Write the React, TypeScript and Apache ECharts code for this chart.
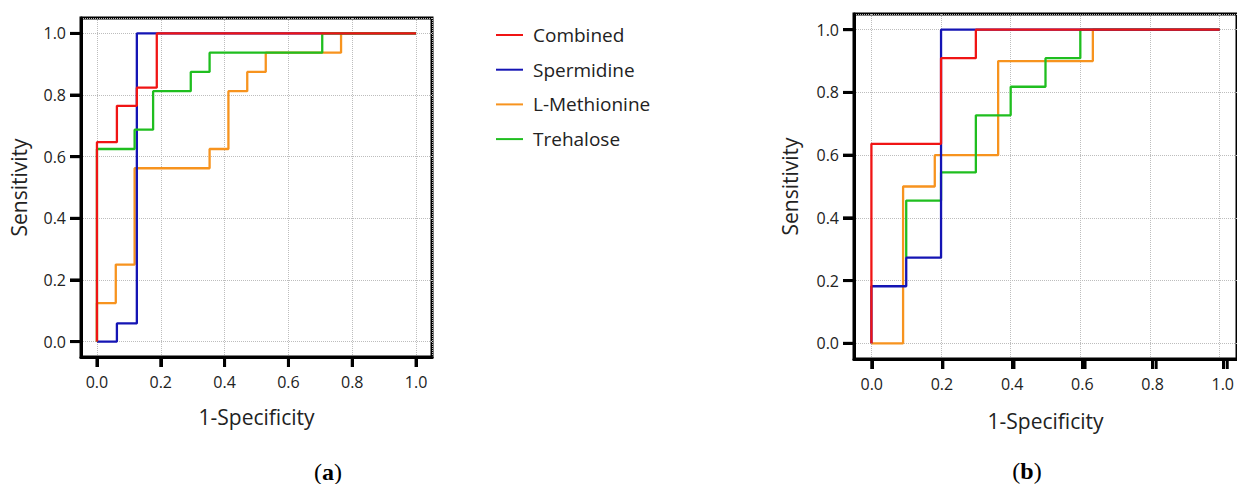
import React, { useEffect, useRef } from "react";
import * as echarts from "echarts";

// Tick values shared by both panels
const xTicks = [0, 0.2, 0.4, 0.6, 0.8, 1.0];
const yTicks = [0, 0.2, 0.4, 0.6, 0.8, 1.0];

const seriesNames = ["Combined", "Spermidine", "L-Methionine", "Trehalose"];
const seriesColors = ["#f01414", "#1414b4", "#f7931e", "#1fbe1f"];

// Panel (a) ROC corner points [1-specificity, sensitivity]
const combinedA = [[0, 0], [0, 0.647], [0.0625, 0.647], [0.0625, 0.765], [0.125, 0.765], [0.125, 0.824], [0.1875, 0.824], [0.1875, 1], [1, 1]];
const spermidineA = [[0, 0], [0.0625, 0], [0.0625, 0.059], [0.125, 0.059], [0.125, 1], [1, 1]];
const methionineA = [[0, 0], [0, 0.125], [0.059, 0.125], [0.059, 0.25], [0.118, 0.25], [0.118, 0.5625], [0.353, 0.5625], [0.353, 0.625], [0.412, 0.625], [0.412, 0.8125], [0.471, 0.8125], [0.471, 0.875], [0.529, 0.875], [0.529, 0.9375], [0.765, 0.9375], [0.765, 1], [1, 1]];
const trehaloseA = [[0, 0], [0, 0.625], [0.118, 0.625], [0.118, 0.6875], [0.176, 0.6875], [0.176, 0.8125], [0.294, 0.8125], [0.294, 0.875], [0.353, 0.875], [0.353, 0.9375], [0.706, 0.9375], [0.706, 1], [1, 1]];

// Panel (b)
const combinedB = [[0, 0], [0, 0.636], [0.2, 0.636], [0.2, 0.909], [0.3, 0.909], [0.3, 1], [1, 1]];
const spermidineB = [[0, 0], [0, 0.182], [0.1, 0.182], [0.1, 0.273], [0.2, 0.273], [0.2, 1], [1, 1]];
const methionineB = [[0, 0], [0.091, 0], [0.091, 0.5], [0.182, 0.5], [0.182, 0.6], [0.364, 0.6], [0.364, 0.9], [0.636, 0.9], [0.636, 1], [1, 1]];
const trehaloseB = [[0.1, 0.273], [0.1, 0.455], [0.2, 0.455], [0.2, 0.545], [0.3, 0.545], [0.3, 0.727], [0.4, 0.727], [0.4, 0.818], [0.5, 0.818], [0.5, 0.909], [0.6, 0.909], [0.6, 1], [1, 1]];

const FONT = "Open Sans";
const TEXT = "#222";
const PAD = 0.05; // axis padding beyond [0, 1]
const SPAN = 1 + 2 * PAD;
const BW = 3; // box / axis line width
const X_TICK_LEN = 10;
const Y_TICK_LEN = 11;

type Box = { left: number; top: number; width: number; height: number };
const boxes: Box[] = [
  { left: 81, top: 18, width: 351, height: 339 },
  { left: 854, top: 14, width: 391, height: 345 },
];

// inner grid spanning exactly the [0, 1] data range of a box
function innerOf(b: Box) {
  const ox = (b.width * PAD) / SPAN;
  const oy = (b.height * PAD) / SPAN;
  return { left: b.left + ox, top: b.top + oy, width: b.width - 2 * ox, height: b.height - 2 * oy, ox, oy };
}

const splitStyle = { type: "dotted", color: "#bdbdbd", width: 1 };

// Box axes: frame, grid lines and names
function boxX(gridIndex: number, nameGap: number) {
  return {
    type: "value", gridIndex, min: -PAD, max: 1 + PAD, splitNumber: 5,
    name: "1-Specificity", nameLocation: "middle", nameGap,
    nameTextStyle: { fontFamily: FONT, fontSize: 21, color: TEXT },
    axisLine: { show: true, onZero: false, lineStyle: { color: "#000", width: BW } },
    axisTick: { show: false },
    axisLabel: { show: false },
    splitLine: { show: true, lineStyle: splitStyle },
  };
}
function boxY(gridIndex: number, nameGap: number) {
  return {
    type: "value", gridIndex, min: -PAD, max: 1 + PAD, splitNumber: 5,
    name: "Sensitivity", nameLocation: "middle", nameGap,
    nameTextStyle: { fontFamily: FONT, fontSize: 21, color: TEXT },
    axisLine: { show: true, onZero: false, lineStyle: { color: "#000", width: BW } },
    axisTick: { show: false },
    axisLabel: { show: false },
    splitLine: { show: true, lineStyle: splitStyle },
  };
}
// Tick axes on the inner [0, 1] grids, shifted out onto the frame
function tickX(gridIndex: number, offset: number) {
  return {
    type: "value", gridIndex, min: xTicks[0], max: xTicks[xTicks.length - 1], interval: 0.2, offset, z: 10,
    axisLine: { show: true, onZero: false, lineStyle: { color: "#000", width: BW } },
    axisTick: { show: true, length: X_TICK_LEN, lineStyle: { color: "#000", width: BW } },
    axisLabel: { formatter: (v: number) => v.toFixed(1), fontFamily: FONT, fontSize: 16, color: TEXT, margin: 17 },
    splitLine: { show: false },
  };
}
function tickY(gridIndex: number, offset: number) {
  return {
    type: "value", gridIndex, min: yTicks[0], max: yTicks[yTicks.length - 1], interval: 0.2, offset, z: 10,
    axisLine: { show: true, onZero: false, lineStyle: { color: "#000", width: BW } },
    axisTick: { show: true, length: Y_TICK_LEN, lineStyle: { color: "#000", width: BW } },
    axisLabel: { formatter: (v: number) => v.toFixed(1), fontFamily: FONT, fontSize: 16, color: TEXT, margin: 15 },
    splitLine: { show: false },
  };
}

function lineSeries(name: string, color: string, data: number[][], idx: number) {
  return {
    type: "line", name, data, xAxisIndex: idx, yAxisIndex: idx,
    symbol: "none", showSymbol: false, color,
    lineStyle: { color, width: 2.3 },
  };
}

function panelLabel(letter: string, x: number, y: number) {
  return {
    type: "text", x, y,
    style: {
      text: `{p|(}{b|${letter}}{p|)}`,
      align: "center", verticalAlign: "middle",
      rich: {
        p: { fontFamily: "Liberation Serif", fontSize: 24, fill: "#000" },
        b: { fontFamily: "Liberation Serif", fontSize: 24, fontWeight: "bold", fill: "#000" },
      },
    },
  };
}

// Backup tick marks: same positions as the tick axes' own ticks
function tickRects(): any[] {
  const out: any[] = [];
  boxes.forEach((b) => {
    const inn = innerOf(b);
    const bottom = b.top + b.height;
    xTicks.forEach((v) => {
      const px = inn.left + v * inn.width;
      out.push({ type: "rect", shape: { x: px - BW / 2, y: bottom, width: BW, height: X_TICK_LEN }, style: { fill: "#000" } });
    });
    yTicks.forEach((v) => {
      const py = inn.top + inn.height - v * inn.height;
      out.push({ type: "rect", shape: { x: b.left - Y_TICK_LEN, y: py - BW / 2, width: Y_TICK_LEN, height: BW }, style: { fill: "#000" } });
    });
  });
  return out;
}

export default function App() {
  const ref = useRef<HTMLDivElement>(null);
  useEffect(() => {
    if (!ref.current) return;
    const chart = echarts.init(ref.current, null, { renderer: "svg" });
    const [cC, cS, cM, cT] = seriesColors;
    const [nC, nS, nM, nT] = seriesNames;
    const iA = innerOf(boxes[0]);
    const iB = innerOf(boxes[1]);
    const gridOf = (g: { left: number; top: number; width: number; height: number }) => ({
      left: g.left, top: g.top, width: g.width, height: g.height,
    });
    chart.setOption({
      animation: false,
      grid: [
        { ...gridOf(boxes[0]), show: true, borderColor: "#000", borderWidth: BW },
        { ...gridOf(boxes[1]), show: true, borderColor: "#000", borderWidth: BW },
        gridOf(iA),
        gridOf(iB),
      ],
      xAxis: [boxX(0, 49), boxX(1, 51), tickX(2, iA.oy), tickX(3, iB.oy)],
      yAxis: [boxY(0, 52), boxY(1, 54), tickY(2, iA.ox), tickY(3, iB.ox)],
      legend: {
        data: seriesNames,
        orient: "vertical",
        left: 491,
        top: 20,
        icon: "rect",
        itemWidth: 27,
        itemHeight: 2,
        itemGap: 14.7,
        textStyle: { fontFamily: FONT, fontSize: 19, color: TEXT, lineHeight: 20, padding: [0, 0, 0, 5] },
        selectedMode: false,
      },
      series: [
        lineSeries(nM, cM, methionineA, 0),
        lineSeries(nS, cS, spermidineA, 0),
        lineSeries(nT, cT, trehaloseA, 0),
        lineSeries(nC, cC, combinedA, 0),
        lineSeries(nM, cM, methionineB, 1),
        lineSeries(nT, cT, trehaloseB, 1),
        lineSeries(nS, cS, spermidineB, 1),
        lineSeries(nC, cC, combinedB, 1),
      ],
      graphic: [panelLabel("a", 328, 472), panelLabel("b", 1027, 471), ...tickRects()],
    });
    return () => chart.dispose();
  }, []);
  return <div ref={ref} style={{ position: "absolute", left: 0, top: 0, width: 1237, height: 484 }} />;
}
